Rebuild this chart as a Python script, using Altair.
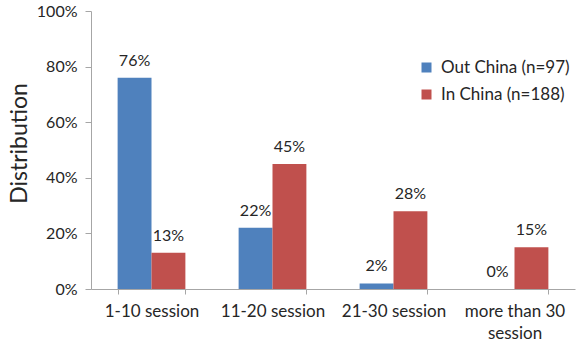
import altair as alt
import pandas as pd

categories = ["1-10 session", "11-20 session", "21-30 session", "more than 30 session"]
series = ["Out China (n=97)", "In China (n=188)"]
out_china = [76, 22, 2, 0]
in_china = [13, 45, 28, 15]
colors = ["#4F81BD", "#C0504D"]

rows = []
for i, cat in enumerate(categories):
    rows.append({"session": cat, "group": series[0], "value": out_china[i] / 100})
    rows.append({"session": cat, "group": series[1], "value": in_china[i] / 100})
df = pd.DataFrame(rows)

FONT = "Lato"
GRAY = "#A6A6A6"
TEXT = "#262626"

x = alt.X(
    "session:N",
    sort=categories,
    scale=alt.Scale(paddingInner=0.44, paddingOuter=0.22),
    axis=alt.Axis(
        title=None,
        labelAngle=0,
        labelFontSize=17,
        labelColor=TEXT,
        labelPadding=9,
        labelLineHeight=22,
        tickBand="extent",
        tickSize=5,
        tickColor=GRAY,
        domainColor=GRAY,
        labelExpr="datum.value == 'more than 30 session' ? ['more than 30', 'session'] : datum.value",
    ),
)
xoff = alt.XOffset("group:N", sort=series)
y = alt.Y(
    "value:Q",
    scale=alt.Scale(domain=[0, 1]),
    axis=alt.Axis(
        title="Distribution",
        titleFontSize=23,
        titleFontWeight="normal",
        titleColor=TEXT,
        titlePadding=5,
        titleY=132,
        format=".0%",
        values=[0, 0.2, 0.4, 0.6, 0.8, 1.0],
        labelFontSize=16,
        labelColor=TEXT,
        labelPadding=8,
        tickSize=6,
        tickColor=GRAY,
        domainColor=GRAY,
        grid=False,
    ),
)

bars = alt.Chart(df).mark_bar().encode(
    x=x,
    xOffset=xoff,
    y=y,
    color=alt.Color(
        "group:N",
        sort=series,
        scale=alt.Scale(domain=series, range=colors),
        legend=alt.Legend(
            title=None,
            orient="none",
            legendX=327,
            legendY=48,
            symbolType="square",
            symbolSize=100,
            symbolStrokeWidth=0,
            labelFontSize=17,
            labelColor=TEXT,
            rowPadding=9,
            labelOffset=6,
        ),
    ),
)

labels = alt.Chart(df).mark_text(dy=-17, fontSize=16, color=TEXT, font=FONT).encode(
    x=x,
    xOffset=xoff,
    y=y,
    text=alt.Text("value:Q", format=".0%"),
)

chart = (
    alt.layer(bars, labels)
    .properties(
        width=484,
        height=278,
        autosize=alt.AutoSizeParams(type="none"),
        padding={"left": 91, "top": 11, "right": 1, "bottom": 57},
    )
    .configure(font=FONT)
    .configure_view(stroke=None)
    .configure_axis(labelFont=FONT, titleFont=FONT)
    .configure_legend(labelFont=FONT)
)

chart.save("out.html", embed_options={"renderer": "svg", "actions": False})
